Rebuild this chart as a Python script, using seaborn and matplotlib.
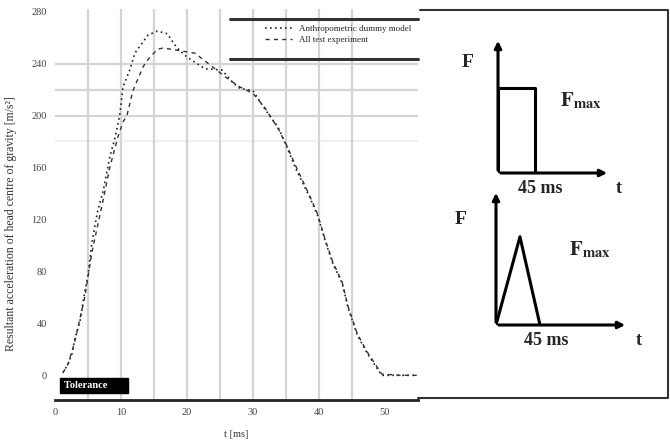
import numpy as np
import pandas as pd
import matplotlib.pyplot as plt
import seaborn as sns

# measured acceleration curves (time in ms)
model_t = [1.2, 2.0, 2.6, 3.0, 3.8, 4.5, 5.0, 5.6, 6.4, 7.3, 8.3, 9.1, 9.8, 10.3, 11.4,
           12.1, 14.1, 15.5, 17.0, 18.5, 20.0, 22.7, 25.3, 27.0, 28.0, 30.0, 31.8, 33.8,
           35.2, 36.4, 38.6, 39.8, 40.9, 42.1, 43.5, 44.4, 45.8, 47.3, 49.5, 52.3, 54.8]
model_a = [2, 9, 17, 28, 42, 64, 77, 102, 125, 142, 168, 183, 200, 222, 236,
           248, 262, 265, 263, 252, 245, 236, 235, 225, 221, 219, 205, 191,
           175, 160, 137, 123, 104, 86, 71, 52, 31, 17, 0, 0, 0]

test_t = [1.2, 2.0, 3.0, 4.5, 5.6, 7.3, 8.3, 9.5, 10.3, 10.9, 11.8, 13.3, 13.9, 15.5,
          16.4, 21.2, 26.0, 28.0, 30.0, 31.8, 33.8, 35.2, 36.4, 38.6, 39.8, 40.9, 42.1,
          43.5, 44.4, 45.8, 47.3, 49.5, 52.3, 54.8]
test_a = [2, 9, 26, 60, 95, 135, 160, 183, 195, 200, 219, 237, 242, 251,
          252, 248, 229, 222, 217, 206, 190, 176, 162, 138, 124, 105, 87,
          72, 53, 32, 18, 1, 0, 0]

labels = ["Anthropometric dummy model", "All test experiment"]
x_ticks = [0, 10, 20, 30, 40, 50]
x_grid = [5, 10, 15, 20, 25, 30, 35, 40, 45]
y_ticks = [0, 40, 80, 120, 160, 200, 240, 280]
y_grid = [180, 200, 220, 240]

# pulse sketches (ms, F / Fmax)
rect_t = [0, 0, 45, 45]
rect_f = [0, 1, 1, 0]
tri_t = [0, 24.5, 45]
tri_f = [0, 1, 0]

sns.set_style("white")
plt.rcParams['font.family'] = ['Liberation Serif', 'DejaVu Serif']
plt.rcParams['mathtext.fontset'] = 'stix'

fig = plt.figure(figsize=(6.7, 4.41), dpi=100)
ax = fig.add_axes([55 / 670, 1 - 400 / 441, 363 / 670, 391 / 441])

for xg in x_grid:
    ax.axvline(xg, color='#d4d4d4', lw=1.6, zorder=0)
for yg, al in zip(y_grid, [0.35, 1, 1, 1]):
    ax.axhline(yg, color='#d4d4d4', lw=1.6, alpha=al, zorder=0)

df_model = pd.DataFrame({'t': model_t, 'a': model_a})
df_test = pd.DataFrame({'t': test_t, 'a': test_a})
sns.lineplot(data=df_model, x='t', y='a', ax=ax, color='#222222', lw=1.2,
             linestyle=(0, (1, 2)), label=labels[0])
sns.lineplot(data=df_test, x='t', y='a', ax=ax, color='#333333', lw=1.0,
             linestyle=(0, (3, 3)), label=labels[1])

ax.set_xlim(0, 55)
ax.set_ylim(-19, 282)
ax.set_xticks(x_ticks)
ax.set_yticks(y_ticks)
ax.tick_params(length=0, labelsize=7.5, labelcolor='#444444', pad=6)
ax.set_xlabel("t [ms]", fontsize=7.5, color='#333333', labelpad=9)
ax.set_ylabel("Resultant acceleration of head centre of gravity [m/s²]", fontsize=8.5,
              color='#333333', labelpad=7)
ax.yaxis.set_label_coords(-0.105, 0.45)
for s in ['top', 'right', 'left']:
    ax.spines[s].set_visible(False)
ax.spines['bottom'].set_linewidth(2)
ax.spines['bottom'].set_color('#222222')

leg = ax.legend(loc='upper right', bbox_to_anchor=(1.0, 0.975), frameon=False,
                fontsize=6.5, handlelength=3, borderaxespad=0.3, labelspacing=0.3)
# heavy rules above and below the legend
for yy in [0.974, 0.872]:
    ax.plot([0.482, 1.0], [yy, yy], transform=ax.transAxes, color='#333333', lw=2.2, clip_on=False)

ax.text(1.3, -8, "Tolerance       ", fontsize=7.5, color='white', fontweight='bold', va='center',
        bbox=dict(boxstyle='square,pad=0.3', fc='black', ec='black'))

# right panel frame
fr = fig.add_axes([0, 0, 1, 1], facecolor='none')
fr.set_xlim(0, 670)
fr.set_ylim(441, 0)
fr.axis('off')
fr.plot([420, 668, 668, 418], [10, 10, 398, 398], color='#333333', lw=1.5)

def pulse(rect, t, f, tmax, fmax, y_lab):
    a = fig.add_axes(rect, facecolor='none')
    a.plot(t, f, color='black', lw=2.2)
    a.set_xlim(0, tmax)
    a.set_ylim(0, fmax)
    a.axis('off')
    a.annotate('', xy=(tmax, 0), xytext=(0, 0),
               arrowprops=dict(arrowstyle='-|>', color='black', lw=2.2, mutation_scale=10), annotation_clip=False)
    a.annotate('', xy=(0, fmax), xytext=(0, 0),
               arrowprops=dict(arrowstyle='-|>', color='black', lw=2.2, mutation_scale=10), annotation_clip=False)
    a.text(-0.27 * tmax, y_lab, "F", fontsize=14, fontweight='bold', ha='center', va='center')
    a.text(0.55 * tmax, 0.85, r"$\mathbf{F}_{\mathbf{max}}$", fontsize=15, ha='left', va='center')
    a.text(0.38 * tmax, -0.18, "45 ms", fontsize=13, fontweight='bold', ha='center', va='center')
    a.text(1.08 * tmax, -0.18, "t", fontsize=13, fontweight='bold', ha='center', va='center')
    return a

pulse([498 / 670, 1 - 173 / 441, 112 / 670, 135 / 441], rect_t, rect_f, 136, 1.59, 1.3)
pulse([496 / 670, 1 - 325 / 441, 132 / 670, 135 / 441], tri_t, tri_f, 135, 1.53, 1.2)

plt.savefig("out.png", dpi=100)
